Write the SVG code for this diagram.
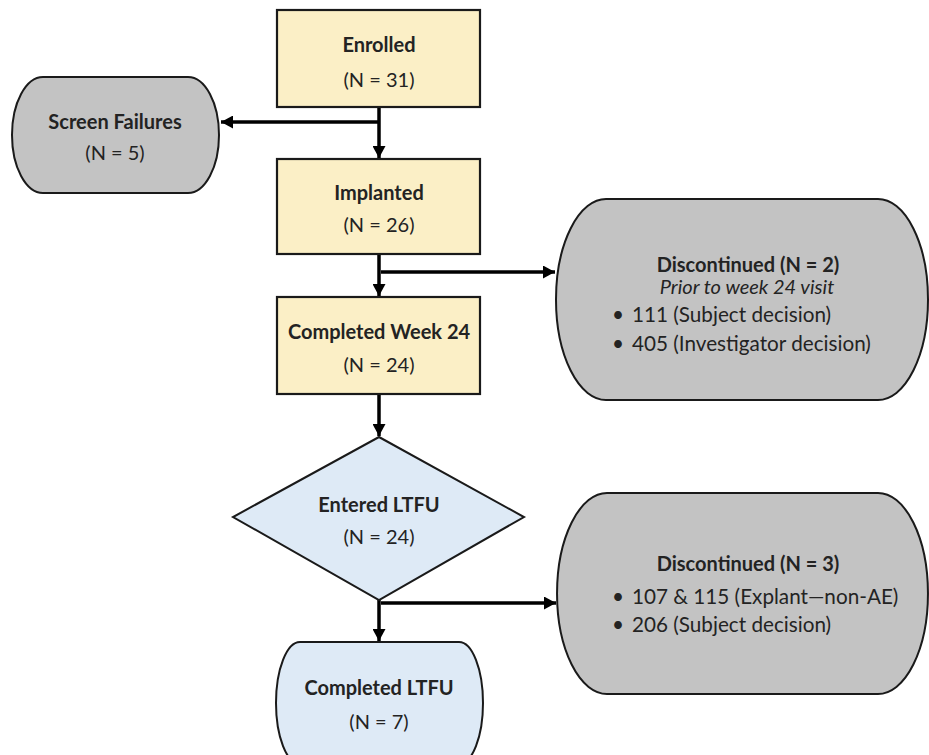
<svg xmlns="http://www.w3.org/2000/svg" width="929" height="755" viewBox="0 0 929 755">
<defs>
<marker id="arr" markerUnits="userSpaceOnUse" markerWidth="13" markerHeight="13" refX="12" refY="6.5" orient="auto">
<path d="M0,0 L12,6.5 L0,13 Z" fill="#000"/>
</marker>
<style>
.box{fill:#FBEFC6;stroke:#1a1a1a;stroke-width:2.2}
.grey{fill:#C3C3C3;stroke:#1a1a1a;stroke-width:2}
.blue{fill:#DEEAF6;stroke:#1a1a1a;stroke-width:2}
.t{font-family:Lato,"Liberation Sans",sans-serif;font-size:20px;fill:#232323;text-anchor:middle}
.b{font-weight:bold}
.i{font-style:italic}
.l{text-anchor:start;font-size:20.7px}
.c{fill:none;stroke:#000;stroke-width:3.5;marker-end:url(#arr)}
</style>
</defs>
<rect width="929" height="755" fill="#fff"/>
<g id="connectors">
<path class="c" d="M379,107 V158"/>
<path class="c" d="M379,122 H221"/>
<path class="c" d="M379,254 V296"/>
<path class="c" d="M381,272 H555"/>
<path class="c" d="M379,394 V436"/>
<path class="c" d="M379,600 V641"/>
<path class="c" d="M381,603 H556"/>
</g>
<g id="enrolled">
<rect class="box" x="277" y="10" width="203" height="97"/>
<text class="t b" x="379" y="52">Enrolled</text>
<text class="t" x="379" y="87">(N = 31)</text>
</g>
<g id="screen-failures">
<path class="grey" d="M43,77 H188 A31 58 0 0 1 188,193 H43 A31 58 0 0 1 43,77 Z"/>
<text class="t b" x="115" y="129">Screen Failures</text>
<text class="t" x="115" y="160">(N = 5)</text>
</g>
<g id="implanted">
<rect class="box" x="277" y="159" width="203" height="95"/>
<text class="t b" x="379" y="200">Implanted</text>
<text class="t" x="379" y="232">(N = 26)</text>
</g>
<g id="discontinued-1">
<path class="grey" d="M606,199 H878 A50 100.5 0 0 1 878,400 H606 A50 100.5 0 0 1 606,199 Z"/>
<text class="t b" x="748" y="272">Discontinued (N = 2)</text>
<text class="t i" x="747" y="294">Prior to week 24 visit</text>
<text class="t l" x="612" y="322">•<tspan x="632">111 (Subject decision)</tspan></text>
<text class="t l" x="612" y="351">•<tspan x="632">405 (Investigator decision)</tspan></text>
</g>
<g id="completed-week-24">
<rect class="box" x="277" y="297" width="203" height="97"/>
<text class="t b" x="379" y="339">Completed Week 24</text>
<text class="t" x="379" y="372">(N = 24)</text>
</g>
<g id="entered-ltfu">
<path class="blue" d="M379,437 L524,517 L379,600 L233,517 Z"/>
<text class="t b" x="379" y="512">Entered LTFU</text>
<text class="t" x="379" y="544">(N = 24)</text>
</g>
<g id="discontinued-2">
<path class="grey" d="M607,493 H878 A50 100.5 0 0 1 878,694 H607 A50 100.5 0 0 1 607,493 Z"/>
<text class="t b" x="748" y="571">Discontinued (N = 3)</text>
<text class="t l" x="612" y="604">•<tspan x="632">107 &amp; 115 (Explant—non-AE)</tspan></text>
<text class="t l" x="612" y="632">•<tspan x="632">206 (Subject decision)</tspan></text>
</g>
<g id="completed-ltfu">
<path class="blue" d="M300,642 H459 A24 61 0 0 1 459,764 H300 A24 61 0 0 1 300,642 Z"/>
<text class="t b" x="379" y="695">Completed LTFU</text>
<text class="t" x="379" y="729">(N = 7)</text>
</g>
</svg>
